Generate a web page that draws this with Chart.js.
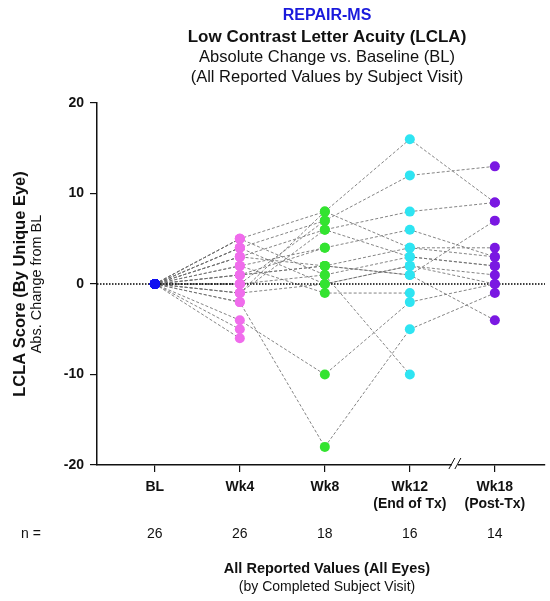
<!DOCTYPE html>
<html>
<head>
<meta charset="utf-8">
<script src="https://cdn.jsdelivr.net/npm/chart.js@4.4.1/dist/chart.umd.min.js"></script>
<style>
  html, body { margin: 0; padding: 0; background: #ffffff; }
  #wrap { width: 550px; height: 601px; position: relative; }
</style>
</head>
<body>
<div id="wrap"><canvas id="c" width="550" height="601"></canvas></div>
<script>
// ---- Data ----
const visits = ['BL', 'Wk4', 'Wk8', 'Wk12', 'Wk18'];
const visitSub = ['', '', '', '(End of Tx)', '(Post-Tx)'];
const nCounts = [26, 26, 18, 16, 14];
const yTicks = [20, 10, 0, -10, -20];
// values per subject eye (index = subject), null = no visit
const bl   = [0, 0, 0, 0, 0, 0, 0, 0, 0, 0, 0, 0, 0, 0, 0, 0, 0, 0, 0, 0, 0, 0, 0, 0, 0, 0];
const wk4  = [5, 4, 3, 2, 1, 5, -1, -2, -4, 0, 3, -1, 1, 4, -1, 2, 0, 1, 5, 3, 0, -2, -5, -6, 0, 4];
const wk8  = [8, 7, 6, 4, 2, 1, 0, -18, -10, 1, 2, 6, 2, 0, 8, -1, 7, 4, null, null, null, null, null, null, null, null];
const wk12 = [16, 12, 8, 6, 4, 3, 2, -5, -2, -10, 1, 3, 1, 2, 4, -1, null, null, null, null, null, null, null, null, null, null];
const wk18 = [9, 13, 9, 3, 4, 2, 1, -1, 0, null, 7, 2, -4, 0, 3, null, null, null, null, null, null, null, null, null, null, null];

const visitColors = ['#1010f0', '#f06cec', '#33e330', '#2ee4f2', '#7a18e2'];
const byVisit = [bl, wk4, wk8, wk12, wk18];

// ---- Build datasets ----
const datasets = [];
byVisit.forEach((arr, vi) => {
  datasets.push({
    type: 'scatter',
    data: arr.filter(v => v !== null).map(v => ({ x: vi, y: v })),
    pointRadius: 5,
    pointBackgroundColor: visitColors[vi],
    pointBorderWidth: 0,
    showLine: false,
    order: 0
  });
});
for (let s = 0; s < bl.length; s++) {
  const pts = [];
  byVisit.forEach((arr, vi) => { if (arr[s] !== null) pts.push({ x: vi, y: arr[s] }); });
  datasets.push({
    type: 'line',
    data: pts,
    borderColor: 'rgba(110,110,110,0.85)',
    borderWidth: 1,
    borderDash: [3, 2],
    pointRadius: 0,
    fill: false,
    tension: 0,
    order: 2
  });
}
datasets.push({
  type: 'line',
  data: [{ x: -0.68, y: 0 }, { x: 4.59, y: 0 }],
  borderColor: '#000',
  borderWidth: 1.3,
  borderDash: [1.5, 1.5],
  pointRadius: 0,
  order: 1
});

const FONT = "'Liberation Sans', Arial, sans-serif";

const textPlugin = {
  id: 'texts',
  afterDraw(chart) {
    const ctx = chart.ctx;
    const xs = chart.scales.x;
    ctx.save();
    ctx.textBaseline = 'middle';
    ctx.textAlign = 'center';
    const cx = 327;
    ctx.fillStyle = '#1a1adc';
    ctx.font = 'bold 16px ' + FONT;
    ctx.fillText('REPAIR-MS', cx, 16);
    ctx.fillStyle = '#111';
    ctx.font = 'bold 17px ' + FONT;
    ctx.fillText('Low Contrast Letter Acuity (LCLA)', cx, 37);
    ctx.font = '16.5px ' + FONT;
    ctx.fillText('Absolute Change vs. Baseline (BL)', cx, 57);
    ctx.fillText('(All Reported Values by Subject Visit)', cx, 77);

    ctx.font = '14px ' + FONT;
    ctx.fillText('n =', 31, 534);
    nCounts.forEach((n, i) => ctx.fillText(String(n), xs.getPixelForValue(i), 534));

    ctx.font = 'bold 14.5px ' + FONT;
    ctx.fillText('All Reported Values (All Eyes)', cx, 569);
    ctx.font = '14px ' + FONT;
    ctx.fillText('(by Completed Subject Visit)', cx, 587);

    ctx.save();
    ctx.translate(20, 284);
    ctx.rotate(-Math.PI / 2);
    ctx.font = 'bold 16.5px ' + FONT;
    ctx.fillText('LCLA Score (By Unique Eye)', 0, 0);
    ctx.restore();
    ctx.save();
    ctx.translate(37, 284);
    ctx.rotate(-Math.PI / 2);
    ctx.font = '14.5px ' + FONT;
    ctx.fillText('Abs. Change from BL', 0, 0);
    ctx.restore();

    const bx = xs.getPixelForValue(3.53);
    const by = chart.chartArea.bottom;
    ctx.fillStyle = '#fff';
    ctx.fillRect(bx - 3, by - 2, 6, 4);
    ctx.strokeStyle = '#111';
    ctx.lineWidth = 1;
    [-3, 3].forEach(d => {
      ctx.beginPath();
      ctx.moveTo(bx + d - 3, by + 4);
      ctx.lineTo(bx + d + 3, by - 7);
      ctx.stroke();
    });
    ctx.restore();
  }
};

new Chart(document.getElementById('c'), {
  data: { datasets },
  options: {
    responsive: false,
    animation: false,
    events: [],
    layout: { padding: { top: 103, right: 5, left: 0, bottom: 0 } },
    plugins: { legend: { display: false }, tooltip: { enabled: false } },
    scales: {
      x: {
        type: 'linear',
        min: -0.68,
        max: 4.59,
        afterBuildTicks: (sc) => { sc.ticks = visits.map((_, i) => ({ value: i })); },
        afterFit: (sc) => { sc.height = 136; },
        ticks: {
          autoSkip: false,
          maxRotation: 0,
          padding: 6,
          color: '#111',
          font: { family: FONT, size: 14, weight: 'bold', lineHeight: 1.25 },
          callback: (v) => visitSub[v] ? [visits[v], visitSub[v]] : visits[v]
        },
        grid: { drawOnChartArea: false, drawTicks: true, tickLength: 7, color: '#111', lineWidth: 1.2 },
        border: { display: true, color: '#111', width: 1.5 }
      },
      y: {
        type: 'linear',
        min: -20,
        max: 20,
        afterBuildTicks: (sc) => { sc.ticks = yTicks.map(v => ({ value: v })); },
        afterFit: (sc) => { sc.width = 97; },
        ticks: {
          padding: 6,
          color: '#111',
          font: { family: FONT, size: 14, weight: 'bold' }
        },
        grid: { drawOnChartArea: false, drawTicks: true, tickLength: 7, color: '#111', lineWidth: 1.2 },
        border: { display: true, color: '#111', width: 1.5 }
      }
    }
  },
  plugins: [textPlugin]
});
</script>
</body>
</html>
